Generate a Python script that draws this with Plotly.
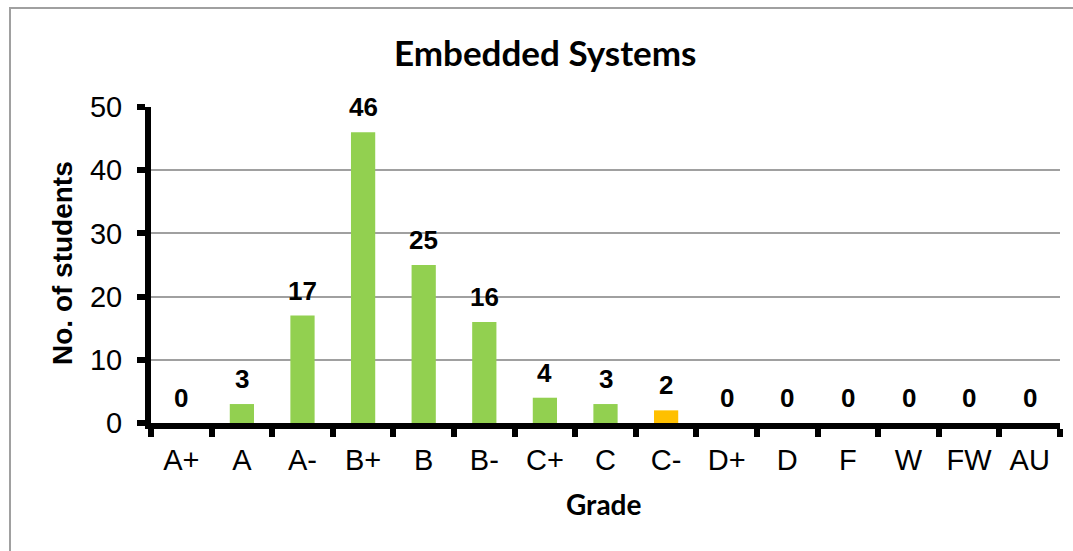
import plotly.graph_objects as go

grades = ["A+", "A", "A-", "B+", "B", "B-", "C+", "C", "C-", "D+", "D", "F", "W", "FW", "AU"]
students = [0, 3, 17, 46, 25, 16, 4, 3, 2, 0, 0, 0, 0, 0, 0]
bar_colors = ["#92D050"] * 8 + ["#FFC000"] + ["#92D050"] * 6
y_ticks = [0, 10, 20, 30, 40, 50]

W, H = 1073, 551
L, R, T, B = 151, 13, 107, 128
pw, ph = W - L - R, H - T - B

fig = go.Figure()
fig.add_trace(go.Bar(
    x=grades, y=students,
    marker=dict(color=bar_colors, line=dict(width=0)),
    width=0.4,
    hoverinfo="skip",
))

for g, v in zip(grades, students):
    fig.add_annotation(
        x=g, y=v, xref="x", yref="y", text=f"<b>{v}</b>",
        showarrow=False, yanchor="bottom", yshift=8,
        font=dict(family="Liberation Sans, Arial", size=26, color="#000000"),
    )

def px_x(p):
    return (p - L) / pw

def px_y(p):
    return (H - B - p) / ph

# titles
fig.add_annotation(
    x=px_x(545), y=px_y(52), xref="paper", yref="paper",
    text="<b>Embedded Systems</b>", showarrow=False,
    xanchor="center", yanchor="middle",
    font=dict(family="Lato, Carlito, Calibri", size=35, color="#000000"),
)
fig.add_annotation(
    x=px_x(62), y=px_y(263), xref="paper", yref="paper",
    text="<b>No. of students</b>", showarrow=False, textangle=-90,
    xanchor="center", yanchor="middle",
    font=dict(family="Liberation Sans, Arial", size=28, color="#000000"),
)
fig.add_annotation(
    x=px_x(603), y=px_y(504), xref="paper", yref="paper",
    text="<b>Grade</b>", showarrow=False,
    xanchor="center", yanchor="middle",
    font=dict(family="Lato, Carlito, Calibri", size=28, color="#000000"),
)

# outer chart border
fig.add_shape(
    type="rect", xref="paper", yref="paper",
    x0=px_x(10), y0=px_y(600), x1=px_x(1100), y1=px_y(8),
    line=dict(color="#A0A0A0", width=2), fillcolor="rgba(0,0,0,0)",
    layer="below",
)

fig.update_layout(
    width=W, height=H,
    margin=dict(l=L, r=R, t=T, b=B, pad=0),
    paper_bgcolor="#FFFFFF", plot_bgcolor="#FFFFFF",
    showlegend=False, bargap=0.6,
)
fig.update_xaxes(
    type="category", showgrid=False, zeroline=False,
    showline=True, linecolor="#000000", linewidth=6,
    ticks="outside", tickson="boundaries", ticklen=8, tickwidth=6, tickcolor="#000000",
    tickfont=dict(family="Liberation Sans, Arial", size=29, color="#000000"),
    ticklabelstandoff=6,
)
fig.update_yaxes(
    range=[0, 50], tickvals=y_ticks, showgrid=True, gridcolor="#A0A0A0", gridwidth=2,
    zeroline=False, showline=True, linecolor="#000000", linewidth=6,
    ticks="outside", ticklen=8, tickwidth=6, tickcolor="#000000",
    tickfont=dict(family="Liberation Sans, Arial", size=29, color="#000000"),
    ticklabelstandoff=9,
)

fig.write_html(
    "out.html",
    config={"displayModeBar": False, "staticPlot": True},
    post_script="document.body.style.margin='0';document.body.style.overflow='hidden';",
)
